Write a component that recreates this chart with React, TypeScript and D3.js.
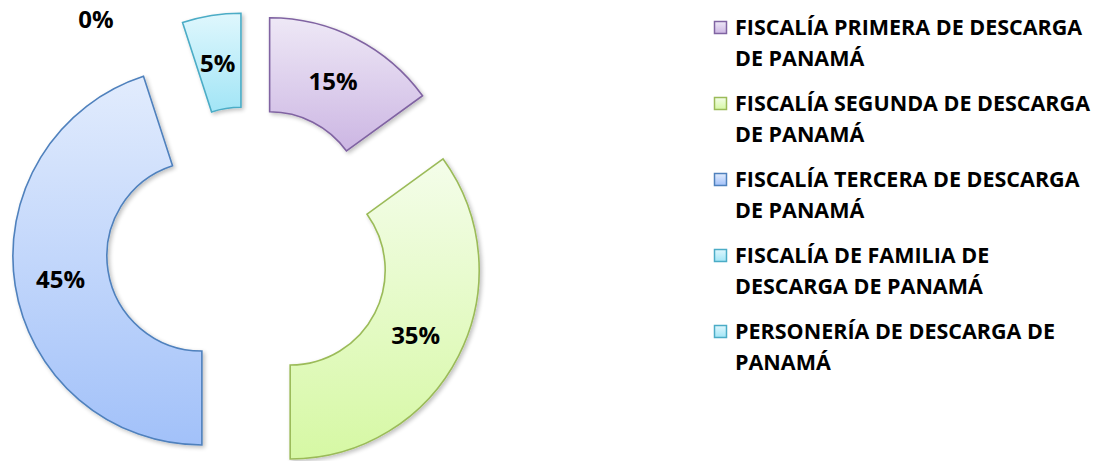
import React from "react";
import * as d3 from "d3";

const categories = [
  ["FISCALÍA PRIMERA DE DESCARGA", "DE PANAMÁ"],
  ["FISCALÍA SEGUNDA DE DESCARGA", "DE PANAMÁ"],
  ["FISCALÍA TERCERA DE DESCARGA", "DE PANAMÁ"],
  ["FISCALÍA DE FAMILIA DE", "DESCARGA DE PANAMÁ"],
  ["PERSONERÍA DE DESCARGA DE", "PANAMÁ"],
];
const values = [15, 35, 45, 5, 0];
const labels = ["15%", "35%", "45%", "5%", "0%"];
const strokes = ["#8064a2", "#9bbb59", "#4f81bd", "#4bacc6", "#4bacc6"];
const gradTop = ["#eee8f6", "#f4fdea", "#e2ecfd", "#dff7fd", "#dff7fd"];
const gradBottom = ["#ccb6e3", "#d6f8a4", "#a2c1f9", "#a2e5f6", "#a2e5f6"];

const W = 1099;
const H = 461;
const cx = 248.3;
const cy = 248.7;
const outerR = 189;
const innerR = 95;
const explode = 47;

export default function App() {
  const pie = d3.pie<number>().sort(null).value((d) => d).startAngle(0).endAngle(2 * Math.PI);
  const arcs = pie(values);
  const arcGen = d3.arc<d3.PieArcDatum<number>>().innerRadius(innerR).outerRadius(outerR);
  const font = "'Open Sans', 'Noto Sans', sans-serif";

  return (
    <svg width={W} height={H} style={{ position: "absolute", left: 0, top: 0, background: "#fff" }}>
      <defs>
        {values.map((_, i) => (
          <linearGradient key={i} id={`g${i}`} x1="0" y1="0" x2="0" y2="1">
            <stop offset="0%" stopColor={gradTop[i]} />
            <stop offset="100%" stopColor={gradBottom[i]} />
          </linearGradient>
        ))}
        <filter id="sh" x="-10%" y="-10%" width="130%" height="130%">
          <feGaussianBlur in="SourceAlpha" stdDeviation="2" />
          <feOffset dx="1.5" dy="2" result="ob" />
          <feComponentTransfer>
            <feFuncA type="linear" slope="0.25" />
          </feComponentTransfer>
          <feMerge>
            <feMergeNode />
            <feMergeNode in="SourceGraphic" />
          </feMerge>
        </filter>
      </defs>
      {arcs.map((a, i) => {
        const mid = (a.startAngle + a.endAngle) / 2;
        const ox = cx + explode * Math.sin(mid);
        const oy = cy - explode * Math.cos(mid);
        if (a.endAngle - a.startAngle < 1e-6) return null;
        const [lx, ly] = arcGen.centroid(a);
        return (
          <g key={i} transform={`translate(${ox},${oy})`}>
            <path d={arcGen(a) || ""} fill={`url(#g${i})`} stroke={strokes[i]} strokeWidth={1.6} filter="url(#sh)" />
            <text x={lx - 1} y={ly} textAnchor="middle" dominantBaseline="central" fontFamily={font} fontWeight="bold" fontSize={24} fill="#000">
              {labels[i]}
            </text>
          </g>
        );
      })}
      {/* zero-value label placed by the chart engine outside the ring */}
      <text x={96} y={18} textAnchor="middle" dominantBaseline="central" fontFamily={font} fontWeight="bold" fontSize={24} fill="#000">
        {labels[4]}
      </text>
      {categories.map((lines, i) => {
        const base = 35 + i * 76;
        return (
          <g key={i}>
            <rect x={714.5} y={base - 13.5} width={12} height={12} fill={`url(#g${i})`} stroke={strokes[i]} strokeWidth={1.5} />
            {lines.map((t, j) => (
              <text key={j} x={735} y={base + j * 30.5} fontFamily={font} fontWeight="bold" fontSize={21.5} fill="#000">
                {t}
              </text>
            ))}
          </g>
        );
      })}
    </svg>
  );
}
